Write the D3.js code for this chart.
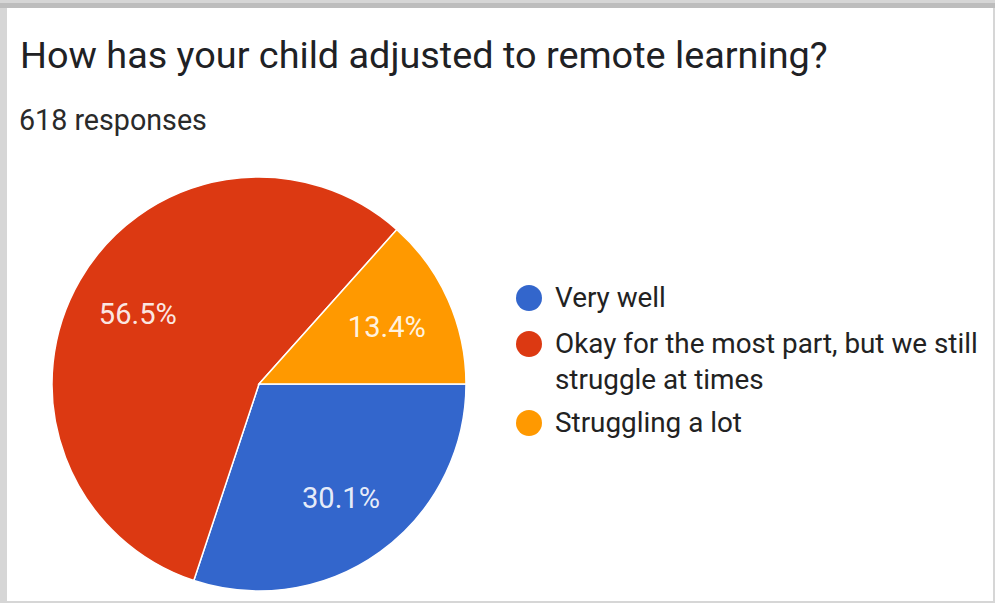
<!DOCTYPE html>
<html>
<head>
<meta charset="utf-8">
<script src="https://cdn.jsdelivr.net/npm/d3@7"></script>
<style>
  html, body { margin: 0; padding: 0; background: #fff; }
  svg { display: block; }
</style>
</head>
<body>
<svg id="chart" width="995" height="603"></svg>
<script>
const title = "How has your child adjusted to remote learning?";
const subtitle = "618 responses";
const categories = ["Very well", "Okay for the most part, but we still struggle at times", "Struggling a lot"];
const legendLines = [["Very well"], ["Okay for the most part, but we still", "struggle at times"], ["Struggling a lot"]];
const values = [30.1, 56.5, 13.4];
const colors = ["#3366cc", "#dc3912", "#ff9900"];

const svg = d3.select("#chart");

// frame (screenshot card border)
svg.append("rect").attr("x", 0).attr("y", 0).attr("width", 995).attr("height", 603).attr("fill", "#d6d6d6");
svg.append("rect").attr("x", 0).attr("y", 3).attr("width", 995).attr("height", 5).attr("fill", "#bdbdbd");
svg.append("rect").attr("x", 7).attr("y", 8).attr("width", 986).attr("height", 593).attr("fill", "#ffffff");

function fit(sel, target) {
  const w = sel.node().getComputedTextLength();
  const fs = parseFloat(sel.attr("font-size"));
  return fs * target / w;
}

const FONT = "Roboto, 'Noto Sans', sans-serif";

const t = svg.append("text").attr("x", 20).attr("y", 68)
  .attr("font-family", FONT).attr("font-size", 32)
  .attr("fill", "#202124").text(title);
t.attr("font-size", fit(t, 808));

const s = svg.append("text").attr("x", 19).attr("y", 130)
  .attr("font-family", FONT).attr("font-size", 21)
  .attr("fill", "#2a2a2a").text(subtitle);
s.attr("font-size", fit(s, 188));

const cx = 259, cy = 384, r = 207;
const pie = d3.pie().sort(null).startAngle(Math.PI / 2).endAngle(Math.PI / 2 + 2 * Math.PI);
const arcs = pie(values);
const arc = d3.arc().innerRadius(0).outerRadius(r);
const labelArc = d3.arc().innerRadius(140).outerRadius(140);

const g = svg.append("g").attr("transform", `translate(${cx},${cy})`);
g.selectAll("path").data(arcs).join("path")
  .attr("d", arc)
  .attr("fill", (d, i) => colors[i])
  .attr("stroke", "#ffffff").attr("stroke-width", 1.5);

const labels = g.selectAll("text.lbl").data(arcs).join("text").attr("class", "lbl")
  .attr("transform", d => `translate(${labelArc.centroid(d)})`)
  .attr("text-anchor", "middle").attr("dominant-baseline", "central")
  .attr("font-family", FONT).attr("font-size", 23)
  .attr("fill", "#ffffff").attr("fill-opacity", 0.9)
  .text(d => d.data.toFixed(1) + "%");
const lfs = fit(d3.select(labels.nodes()[0]), 78);
labels.attr("font-size", lfs);

// legend
const legendY = [298, 344, 423];
const lg = svg.append("g");
const probe = lg.append("text").attr("font-family", FONT).attr("font-size", 25).text(legendLines[1][0]);
const legFs = fit(probe, 423);
probe.remove();
categories.forEach((c, i) => {
  lg.append("circle").attr("cx", 529).attr("cy", legendY[i]).attr("r", 13).attr("fill", colors[i]);
  legendLines[i].forEach((line, j) => {
    lg.append("text").attr("x", 555).attr("y", legendY[i] + 9 + j * 36)
      .attr("font-family", FONT).attr("font-size", legFs)
      .attr("fill", "#222222").text(line);
  });
});
</script>
</body>
</html>
